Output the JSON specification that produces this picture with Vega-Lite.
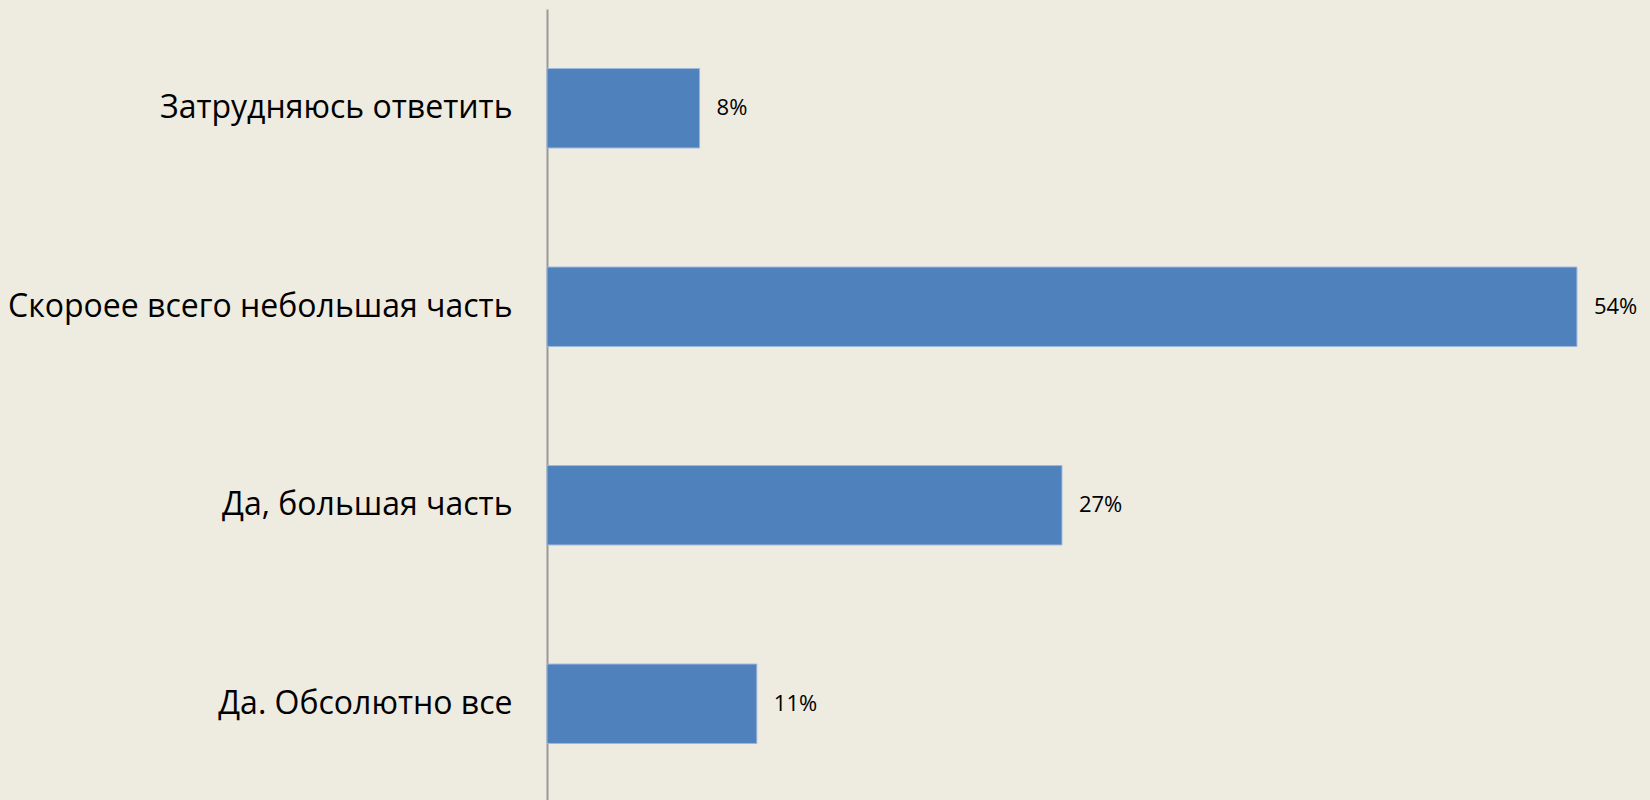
{
  "$schema": "https://vega.github.io/schema/vega-lite/v6.json",
  "autosize": "none",
  "width": 1049,
  "height": 794,
  "padding": {"left": 547, "top": 9, "right": 54, "bottom": 0},
  "background": "#EEEBE0",
  "config": {"view": {"stroke": null}},
  "data": {"values": [
    {"answer": "Затрудняюсь ответить", "share": 0.08},
    {"answer": "Скороее всего небольшая часть", "share": 0.54},
    {"answer": "Да, большая часть", "share": 0.27},
    {"answer": "Да. Обсолютно все", "share": 0.11}
  ]},
  "encoding": {
    "y": {"field": "answer", "type": "nominal", "sort": null,
      "scale": {"paddingInner": 0.6, "paddingOuter": 0.3},
      "axis": {"title": null, "ticks": false, "domainColor": "#999999", "domainWidth": 2,
        "labelFontSize": 32, "labelFont": "Open Sans", "labelColor": "#000000", "labelPadding": 35, "labelLimit": 600}},
    "x": {"field": "share", "type": "quantitative", "scale": {"domain": [0, 0.55], "nice": false}, "axis": null}
  },
  "layer": [
    {"mark": {"type": "bar", "color": "#4F81BD", "stroke": "#9DB7DA", "strokeWidth": 1}},
    {"mark": {"type": "text", "align": "left", "dx": 17, "fontSize": 22, "font": "Open Sans", "color": "#000000"},
     "encoding": {"text": {"field": "share", "type": "quantitative", "format": ".0%"}}}
  ]
}
